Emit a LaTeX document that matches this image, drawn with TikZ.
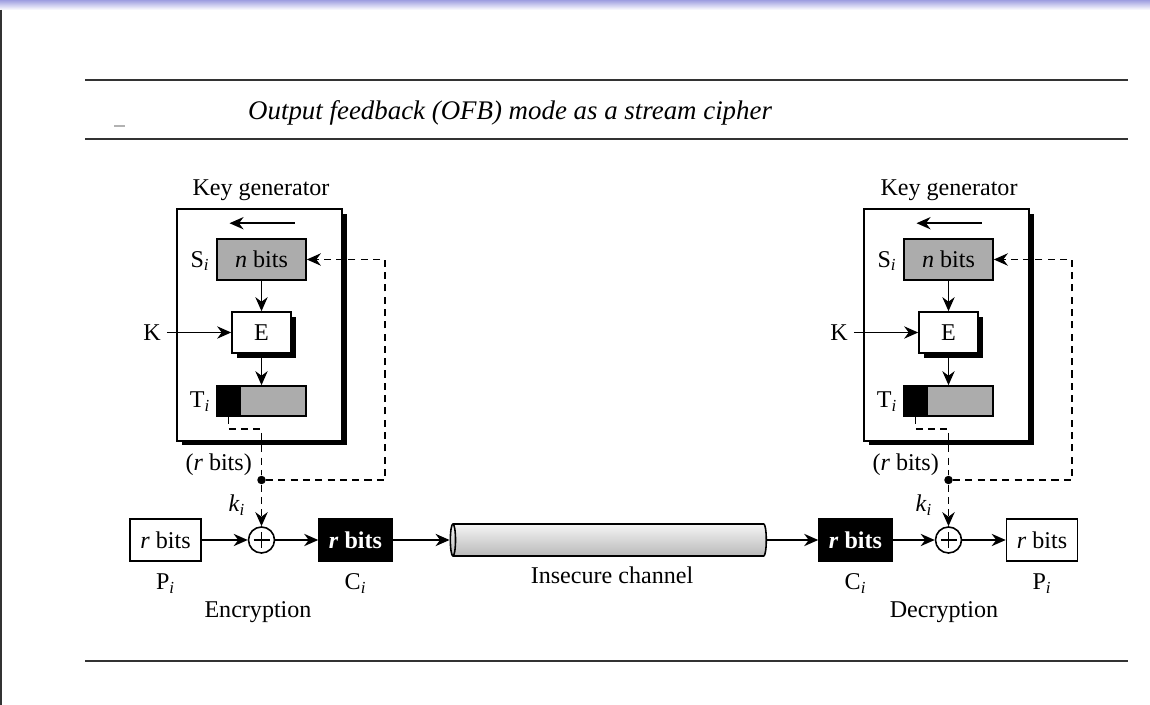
\documentclass[tikz,border=0pt]{standalone}
\usepackage{fontspec}
\setmainfont{Liberation Serif}
\usetikzlibrary{arrows.meta,positioning,shapes.geometric,shadows,calc}
\definecolor{barpurple}{RGB}{158,158,224}
\newcommand{\sub}[1]{#1\textsubscript{\textit{i}}}
\tikzset{
	outerbox/.style  = {shape=rectangle, draw, line width=0.9pt, fill=white,
		minimum width=3.3cm, minimum height=4.64cm,
		general shadow={fill=black, shadow xshift=0.1cm, shadow yshift=-0.09cm}},
	regbox/.style    = {shape=rectangle, draw, line width=0.9pt, fill=gray!65,
		minimum width=1.78cm, minimum height=0.82cm, inner sep=0pt},
	tbox/.style      = {regbox, minimum height=0.6cm},
	tkey/.style      = {shape=rectangle, draw, line width=0.9pt, fill=black,
		minimum width=0.46cm, minimum height=0.6cm, inner sep=0pt},
	ebox/.style      = {shape=rectangle, draw, line width=0.9pt, fill=white,
		minimum width=1.18cm, minimum height=0.82cm,
		general shadow={fill=black, shadow xshift=0.1cm, shadow yshift=-0.1cm}},
	plainbox/.style  = {shape=rectangle, draw, line width=0.9pt, fill=white,
		minimum width=1.42cm, minimum height=0.84cm, inner sep=0pt},
	cipherbox/.style = {plainbox, fill=black, text=white, minimum width=1.46cm,
		font=\fontsize{13.7}{16}\selectfont\bfseries},
	xor/.style       = {circle, draw, line width=0.9pt, minimum size=0.52cm, inner sep=0pt,
		path picture={\draw[line width=0.9pt]
			([xshift=-0.16cm]path picture bounding box.center) -- ([xshift=0.16cm]path picture bounding box.center)
			([yshift=-0.16cm]path picture bounding box.center) -- ([yshift=0.16cm]path picture bounding box.center);}},
	dot/.style       = {circle, fill=black, minimum size=0.17cm, inner sep=0pt},
	arr/.style       = {-{Stealth[length=8pt, width=7pt]}, line width=0.9pt},
	feed/.style      = {arr, dash pattern=on 4pt off 3pt, line width=1.1pt},
	pipe/.style      = {cylinder, shape border rotate=180, aspect=0.44, draw, line width=0.9pt,
		minimum height=6.32cm, minimum width=0.64cm, top color=gray!8, bottom color=gray!55},
	rule/.style      = {line width=1.6pt, gray!40!black}
}

\begin{document}
\begin{tikzpicture}
[
x = 0.02cm,
y = -0.02cm,
every node/.style = {font=\fontsize{13.7}{16}\selectfont}
]
\useasboundingbox (0,0) rectangle (1150,705);
% slide frame
\shade[top color=barpurple, bottom color=white] (0,0) rectangle (1150,10);
\draw[line width=1.5pt, gray!40!black] (1,10) -- (1,705);
\draw[rule] (85,80) -- (1128,80);
\draw[rule] (85,139) -- (1128,139);
\draw[rule] (85,661) -- (1128,661);
\draw[gray!60, line width=0.8pt] (114,126) -- (125,126);
\node[anchor=west, font=\fontsize{15.3}{18}\selectfont\itshape] (title) at (242,113)
	{Output feedback (OFB) mode as a stream cipher};

% key generator, encryption side
\node[outerbox] (kgL) at (259.5,325) {};
\node (kgtL) at (261,190) {Key generator};
\node[regbox] (SL) at (261.5,259.5) {\textit{n} bits};
\node[ebox] (EL) at (261.5,332.5) {E};
\node[tbox] (TL) at (261.5,401) {};
\node[tkey, anchor=north west] (TkL) at (TL.north west) {};
\node (SiL) at (200,261) {\sub{S}};
\node (TiL) at (200,402) {\sub{T}};
\node (KL) at (152,332.5) {K};
\draw[arr] ($(SL.north)+(33,-15)$) -- ($(SL.north)+(-32,-15)$);
\draw[arr] (SL) -- (EL);
\draw[arr] (EL) -- (TL);
\draw[arr] (KL) -- (EL);

% encryption
\node[plainbox] (PL) at (165.5,540) {\textit{r} bits};
\node[xor] (XL) at (261.5,540) {};
\node[cipherbox] (CL) at (355.5,540) {\textit{r} bits};
\node[below=0.12cm of PL] (PiL) {\sub{P}};
\node[below=0.12cm of CL] (CiL) {\sub{C}};
\node (encL) at (258,612) {Encryption};
\node[dot] (dL) at (261.5,480) {};
\coordinate (fbL) at (385,259.5);
\node[anchor=east] (rbL) at (258,465) {(\textit{r} bits)};
\node (kiL) at (237,505) {\sub{\textit{k}}};
\draw[feed, -] (TkL.south) -- ++(0,12) -| (dL);
\draw[feed] (dL) -- (XL);
\draw[feed] (dL) -| (fbL) -- (SL.east);
\draw[arr] (PL) -- (XL);
\draw[arr] (XL) -- (CL);

% channel
\node[pipe] (chan) at (611,540) {};
\node (chanlbl) at (612,575) {Insecure channel};

% key generator, decryption side
\node[outerbox] (kgR) at (946.5,325) {};
\node (kgtR) at (949,190) {Key generator};
\node[regbox] (SR) at (948.5,259.5) {\textit{n} bits};
\node[ebox] (ER) at (948.5,332.5) {E};
\node[tbox] (TR) at (948.5,401) {};
\node[tkey, anchor=north west] (TkR) at (TR.north west) {};
\node (SiR) at (887,261) {\sub{S}};
\node (TiR) at (887,402) {\sub{T}};
\node (KR) at (839,332.5) {K};
\draw[arr] ($(SR.north)+(33,-15)$) -- ($(SR.north)+(-32,-15)$);
\draw[arr] (SR) -- (ER);
\draw[arr] (ER) -- (TR);
\draw[arr] (KR) -- (ER);

% decryption
\node[cipherbox] (CR) at (855.5,540) {\textit{r} bits};
\node[xor] (XR) at (948.5,540) {};
\node[plainbox] (PR) at (1042,540) {\textit{r} bits};
\node[below=0.12cm of CR] (CiR) {\sub{C}};
\node[below=0.12cm of PR] (PiR) {\sub{P}};
\node (decR) at (944,612) {Decryption};
\node[dot] (dR) at (948.5,480) {};
\coordinate (fbR) at (1072,259.5);
\node[anchor=east] (rbR) at (945,465) {(\textit{r} bits)};
\node (kiR) at (924,505) {\sub{\textit{k}}};
\draw[feed, -] (TkR.south) -- ++(0,12) -| (dR);
\draw[feed] (dR) -- (XR);
\draw[feed] (dR) -| (fbR) -- (SR.east);
\draw[arr] (CR) -- (XR);
\draw[arr] (XR) -- (PR);

\draw[arr] (CL) -- (chan.west);
\draw[arr] (chan.east) -- (CR);
\end{tikzpicture}
\end{document}
